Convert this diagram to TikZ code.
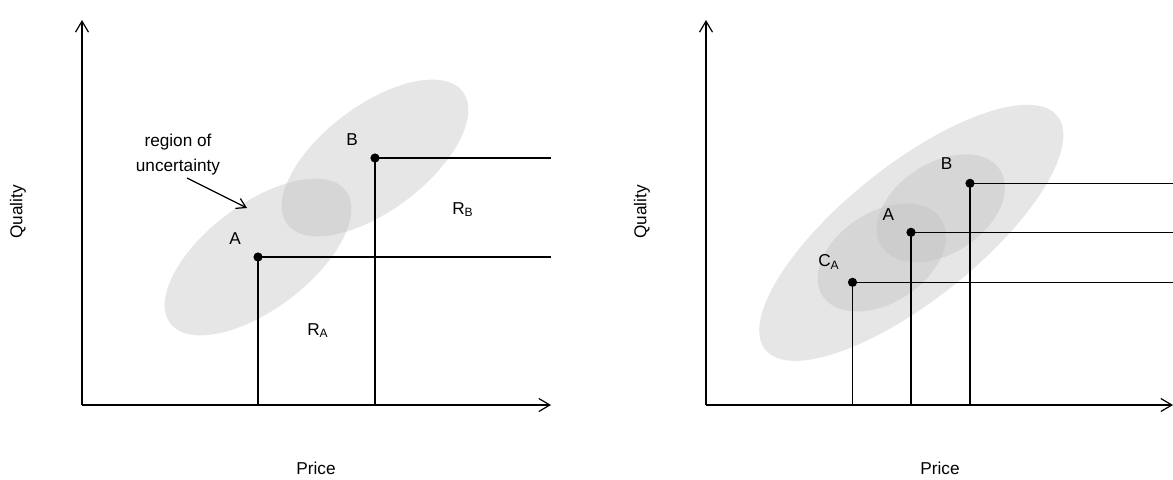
\documentclass[tikz,border=0pt]{standalone}
\usepackage{fontspec}
\setmainfont{Liberation Sans}
\usetikzlibrary{arrows.meta}
\begin{document}
\begin{tikzpicture}[x=0.5pt,y=-0.5pt,
  axis/.style={line width=0.6pt,-{Straight Barb[length=5.5pt,width=6.5pt,line width=0.6pt]}},
  pointer/.style={line width=0.6pt,-{Straight Barb[length=4.5pt,width=5.5pt,line width=0.6pt]}},
  guide/.style={line width=0.65pt},
  dot/.style={circle,fill=black,inner sep=0pt,minimum size=4.6pt},
  lbl/.style={font=\fontsize{8.6}{12.5}\selectfont,inner sep=0pt},
  blob/.style={fill=black!26,fill opacity=0.385}]
\useasboundingbox (0,0) rectangle (1173,479);

% ---------- left panel ----------
\coordinate (O1) at (82,405);
\coordinate (Y1) at (82,20);
\coordinate (X1) at (551,405);
\coordinate (pA1) at (258,257);
\coordinate (pB1) at (375,158);

\begin{scope}[shift={(pA1)},rotate=37]
  \fill[blob] (0,0) ellipse [x radius=55pt,y radius=26.25pt];
\end{scope}
\begin{scope}[shift={(pB1)},rotate=37]
  \fill[blob] (0,0) ellipse [x radius=55pt,y radius=26.25pt];
\end{scope}

\draw[axis] (O1) -- (Y1);
\draw[axis] (O1) -- (X1);

\node[dot] (A1) at (pA1) {};
\node[dot] (B1) at (pB1) {};
\draw[guide] (A1.center) -- (A1.center -| X1);
\draw[guide] (A1.center) -- (A1.center |- O1);
\draw[guide] (B1.center) -- (B1.center -| X1);
\draw[guide] (B1.center) -- (B1.center |- O1);

\node[lbl] (lA1) at (235,239) {A};
\node[lbl] (lB1) at (352,140) {B};
\node[lbl] (lRA) at (318,331) {R\textsubscript{A}};
\node[lbl] (lRB) at (463,210) {R\textsubscript{B}};
\node[lbl,align=center] (reg) at (178,154.5) {region of\\uncertainty};
\coordinate (rs) at (187,178);
\coordinate (rt) at (247,208);
\draw[pointer] (rs) -- (rt);

\node[lbl,rotate=90] (q1) at (18,212) {Quality};
\node[lbl] (p1) at (316,468) {Price};

% ---------- right panel ----------
\coordinate (O2) at (706,405);
\coordinate (Y2) at (706,20);
\coordinate (X2) at (1173,405);
\coordinate (pC) at (852.5,282.3);
\coordinate (pA2) at (911,232.3);
\coordinate (pB2) at (970,183.3);

\begin{scope}[shift={(911.3,232.8)},rotate=38.6]
  \fill[blob] (0,0) ellipse [x radius=93.5pt,y radius=33.7pt];
\end{scope}
\begin{scope}[shift={(881.8,257.5)},rotate=32.9]
  \fill[blob] (0,0) ellipse [x radius=35.3pt,y radius=22.65pt];
\end{scope}
\begin{scope}[shift={(940.8,208.3)},rotate=32.9]
  \fill[blob] (0,0) ellipse [x radius=35.3pt,y radius=22.65pt];
\end{scope}

\draw[axis] (O2) -- (Y2);
\draw[axis] (O2) -- (X2);

\node[dot] (C2) at (pC) {};
\node[dot] (A2) at (pA2) {};
\node[dot] (B2) at (pB2) {};
\foreach \n in {C2,A2,B2}{
  \draw[guide] (\n.center) -- (\n.center -| X2);
  \draw[guide] (\n.center) -- (\n.center |- O2);
}

\node[lbl] (lB2) at (946.7,164) {B};
\node[lbl] (lA2) at (888.3,215) {A};
\node[lbl] (lC2) at (829,262) {C\textsubscript{A}};

\node[lbl,rotate=90] (q2) at (642,212) {Quality};
\node[lbl] (p2) at (940,468) {Price};
\end{tikzpicture}
\end{document}
